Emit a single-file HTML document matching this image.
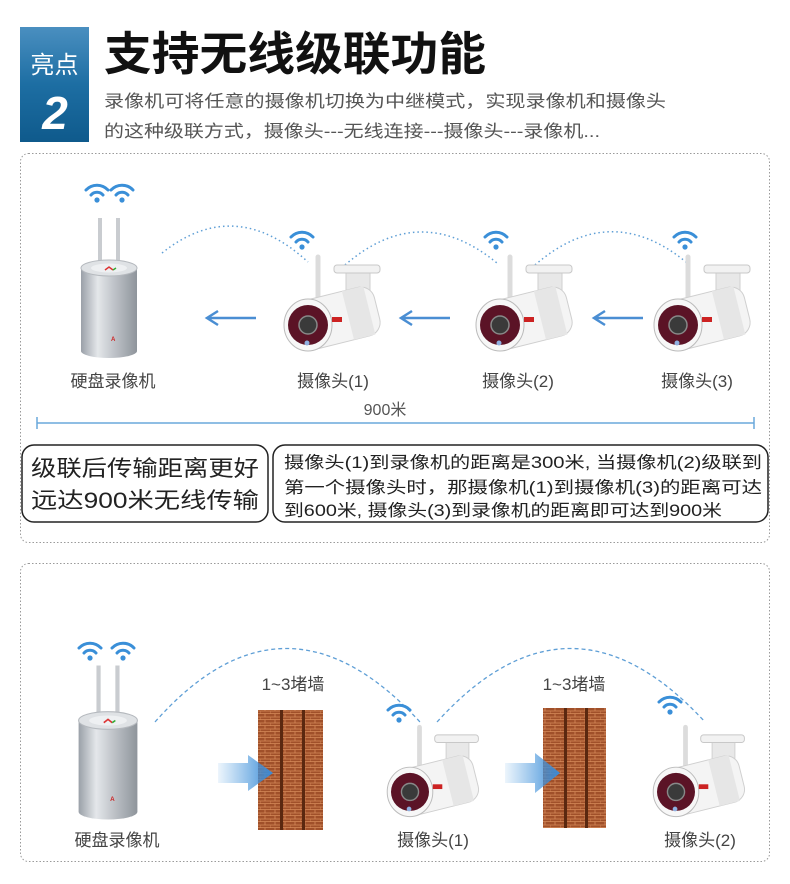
<!DOCTYPE html>
<html><head><meta charset="utf-8"><style>
html,body{margin:0;padding:0;background:#fff;}
svg{display:block;}
text{font-family:"Liberation Sans","Noto Sans CJK SC",sans-serif;}
</style></head><body>
<svg width="790" height="884" viewBox="0 0 790 884" xmlns="http://www.w3.org/2000/svg">
<defs>
<linearGradient id="badge" x1="0" y1="0" x2="0" y2="1">
<stop offset="0" stop-color="#4a8fc0"/><stop offset="0.5" stop-color="#1d6ea3"/><stop offset="1" stop-color="#0f5a8c"/></linearGradient>
<linearGradient id="silver" x1="0" y1="0" x2="1" y2="0">
<stop offset="0" stop-color="#9aa0a8"/><stop offset="0.3" stop-color="#e4e7ea"/><stop offset="0.55" stop-color="#c4c8cd"/><stop offset="1" stop-color="#8e949b"/></linearGradient>
<linearGradient id="barrow" x1="0" y1="0" x2="1" y2="0">
<stop offset="0" stop-color="#4a9be0" stop-opacity="0.1"/><stop offset="1" stop-color="#3a8ad6"/></linearGradient>
<pattern id="brick" width="10" height="6" patternUnits="userSpaceOnUse">
<rect width="10" height="6" fill="#a0502a"/><path d="M0 5.5H10M5 0V3M0 3H10M0 3V6" stroke="#d68a5a" stroke-width="0.8"/></pattern>
<g id="wifi"><circle cx="0" cy="0" r="2.6" fill="#3a8fd8"/>
<path d="M-6 -5A8 8 0 0 1 6 -5" stroke="#3a8fd8" stroke-width="3" fill="none" stroke-linecap="round"/>
<path d="M-11 -10A15 15 0 0 1 11 -10" stroke="#3a8fd8" stroke-width="3" fill="none" stroke-linecap="round"/></g>
<g id="nvr">
<line x1="-9" y1="-95" x2="-9" y2="-40" stroke="#c9ccd0" stroke-width="4"/>
<line x1="9" y1="-95" x2="9" y2="-40" stroke="#c9ccd0" stroke-width="4"/>
<path d="M-28 -45 V38 A28 7 0 0 0 28 38 V-45 Z" fill="url(#silver)"/>
<ellipse cx="0" cy="-45" rx="28" ry="8" fill="#dfe2e5" stroke="#b5b9be"/>
<ellipse cx="0" cy="-45" rx="18" ry="4.5" fill="#eef0f2"/>
<path d="M-4 -43 L0 -46 L4 -43" stroke="#d33" stroke-width="1.5" fill="none"/>
<path d="M4 -43 L7 -45" stroke="#3a3" stroke-width="1.5"/>
<text x="2" y="28" font-size="6" fill="#c22" font-weight="bold">A</text>
</g>
<g id="cam">
<line x1="10" y1="-66" x2="10" y2="-22" stroke="#dcdcdc" stroke-width="5" stroke-linecap="round"/>
<rect x="38" y="-52" width="24" height="36" fill="#e8e8e8" stroke="#cfcfcf"/>
<rect x="26" y="-58" width="46" height="8" rx="3" fill="#f2f2f2" stroke="#c8c8c8"/>
<circle cx="50" cy="-32" r="2" fill="#555"/>
<g transform="rotate(-14 30 -6)">
<rect x="-8" y="-30" width="78" height="50" rx="14" fill="#f4f4f4" stroke="#cfcfcf"/>
<rect x="40" y="-30" width="22" height="50" fill="#e6e6e6"/>
</g>
<ellipse cx="0" cy="2" rx="24" ry="26" fill="#f7f7f7" stroke="#bbb"/>
<circle cx="0" cy="2" r="20" fill="#5b1326"/>
<circle cx="0" cy="2" r="9" fill="#3a3a3a" stroke="#888" stroke-width="1.5"/>
<circle cx="-1" cy="20" r="2.5" fill="#8fb0e0"/>
<rect x="24" y="-6" width="10" height="5" fill="#c22"/>
</g>
</defs>

<!-- header -->
<rect x="20" y="27" width="69" height="115" fill="url(#badge)"/>
<text x="54.5" y="73" font-size="24" fill="#fff" text-anchor="middle">亮点</text>
<text x="55" y="129" font-size="46" font-weight="bold" font-style="italic" fill="#fff" text-anchor="middle">2</text>
<text x="104" y="70" font-size="46" font-weight="bold" fill="#111" textLength="382" lengthAdjust="spacingAndGlyphs">支持无线级联功能</text>
<text x="104" y="107" font-size="17" fill="#555" textLength="562" lengthAdjust="spacingAndGlyphs">录像机可将任意的摄像机切换为中继模式，实现录像机和摄像头</text>
<text x="104" y="137" font-size="17" fill="#555" textLength="496" lengthAdjust="spacingAndGlyphs">的这种级联方式，摄像头---无线连接---摄像头---录像机...</text>

<!-- panel 1 -->
<rect x="20.5" y="153.5" width="749" height="389" rx="8" fill="none" stroke="#9a9a9a" stroke-dasharray="1.5 2"/>
<use href="#wifi" x="97" y="200"/><use href="#wifi" x="122" y="200"/>
<use href="#nvr" x="109" y="313"/>
<text x="113" y="387" font-size="17" fill="#444" text-anchor="middle">硬盘录像机</text>
<g stroke="#5f9fd6" stroke-width="1.5" stroke-dasharray="1.5 3" fill="none">
<path d="M162 253 Q235 195 308 262"/>
<path d="M345 265 Q420 200 497 263"/>
<path d="M535 265 Q610 200 686 262"/>
</g>
<use href="#wifi" x="302" y="247"/>
<use href="#wifi" x="496" y="247"/>
<use href="#wifi" x="685" y="247"/>
<g stroke="#4a8ed3" stroke-width="2.5" fill="none">
<path d="M256 318H207M218 311L207 318L218 325"/>
<path d="M450 318H401M412 311L401 318L412 325"/>
<path d="M643 318H594M605 311L594 318L605 325"/>
</g>
<use href="#cam" x="308" y="323"/>
<use href="#cam" x="500" y="323"/>
<use href="#cam" x="678" y="323"/>
<text x="333" y="387" font-size="17" fill="#444" text-anchor="middle">摄像头(1)</text>
<text x="518" y="387" font-size="17" fill="#444" text-anchor="middle">摄像头(2)</text>
<text x="697" y="387" font-size="17" fill="#444" text-anchor="middle">摄像头(3)</text>
<text x="385" y="415" font-size="16" fill="#555" text-anchor="middle">900米</text>
<path d="M37 423H754M37 417V429M754 417V429" stroke="#6aa8dc" stroke-width="1.5"/>
<rect x="22" y="445" width="246" height="77" rx="12" fill="none" stroke="#222" stroke-width="1.5"/>
<text x="145" y="476" font-size="22" fill="#222" text-anchor="middle" textLength="228" lengthAdjust="spacingAndGlyphs">级联后传输距离更好</text>
<text x="145" y="508" font-size="22" fill="#222" text-anchor="middle" textLength="228" lengthAdjust="spacingAndGlyphs">远达900米无线传输</text>
<rect x="273" y="445" width="495" height="77" rx="12" fill="none" stroke="#222" stroke-width="1.5"/>
<text x="284" y="468" font-size="16.5" fill="#222" textLength="478" lengthAdjust="spacingAndGlyphs">摄像头(1)到录像机的距离是300米, 当摄像机(2)级联到</text>
<text x="284" y="493" font-size="16.5" fill="#222" textLength="478" lengthAdjust="spacingAndGlyphs">第一个摄像头时，那摄像机(1)到摄像机(3)的距离可达</text>
<text x="284" y="516" font-size="16.5" fill="#222" textLength="438" lengthAdjust="spacingAndGlyphs">到600米, 摄像头(3)到录像机的距离即可达到900米</text>

<!-- panel 2 -->
<rect x="20.5" y="563.5" width="749" height="298" rx="8" fill="none" stroke="#9a9a9a" stroke-dasharray="1.5 2"/>
<use href="#wifi" x="90" y="658"/><use href="#wifi" x="123" y="658"/>
<g transform="translate(108 770) scale(1.05 1.1)"><use href="#nvr"/></g>
<text x="117" y="846" font-size="17" fill="#444" text-anchor="middle">硬盘录像机</text>
<g stroke="#5f9fd6" stroke-width="1.3" stroke-dasharray="4 3" fill="none">
<path d="M155 722 Q285 575 420 722"/>
<path d="M437 722 Q570 575 705 722"/>
</g>
<text x="293" y="690" font-size="17" fill="#444" text-anchor="middle">1~3堵墙</text>
<text x="574" y="690" font-size="17" fill="#444" text-anchor="middle">1~3堵墙</text>
<g>
<rect x="258" y="710" width="22" height="120" fill="url(#brick)"/>
<rect x="280" y="710" width="3" height="120" fill="#5a2810"/>
<rect x="283" y="710" width="19" height="120" fill="url(#brick)"/>
<rect x="302" y="710" width="3" height="120" fill="#5a2810"/>
<rect x="305" y="710" width="18" height="120" fill="url(#brick)"/>
<rect x="543" y="708" width="21" height="120" fill="url(#brick)"/>
<rect x="564" y="708" width="3" height="120" fill="#5a2810"/>
<rect x="567" y="708" width="18" height="120" fill="url(#brick)"/>
<rect x="585" y="708" width="3" height="120" fill="#5a2810"/>
<rect x="588" y="708" width="18" height="120" fill="url(#brick)"/>
</g>
<path d="M218 763H248V755L273 773L248 791V783H218Z" fill="url(#barrow)"/>
<path d="M505 763H535V753L560 773L535 793V783H505Z" fill="url(#barrow)"/>
<use href="#wifi" x="399" y="720"/>
<use href="#wifi" x="670" y="712"/>
<g transform="translate(410 790) scale(0.95)"><use href="#cam"/></g>
<g transform="translate(676 790) scale(0.95)"><use href="#cam"/></g>
<text x="433" y="846" font-size="17" fill="#444" text-anchor="middle">摄像头(1)</text>
<text x="700" y="846" font-size="17" fill="#444" text-anchor="middle">摄像头(2)</text>
</svg>
</body></html>
